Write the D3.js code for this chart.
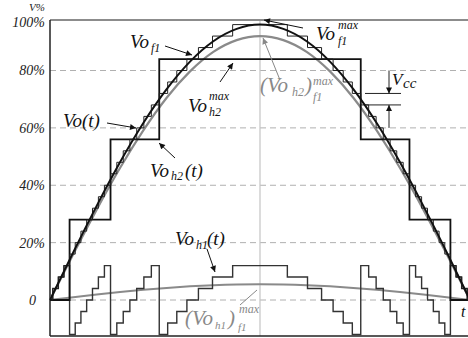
<!DOCTYPE html>
<html><head><meta charset="utf-8">
<script src="https://cdn.jsdelivr.net/npm/d3@7"></script>
<style>
html,body{margin:0;padding:0;background:#fff;}
svg{display:block;}
text{font-family:"Liberation Serif","Times New Roman",serif;font-style:italic;}
</style></head><body>
<svg id="chart" width="468" height="338"></svg>
<script>
// Phase angle (degrees) across one half period of the output voltage
const sampleAngles = [0,10,20,30,40,50,60,70,80,90,100,110,120,130,140,150,160,170,180];
// Reference output voltage Vo(t), % of full scale
const voT = [0,16.7,32.8,48.0,61.7,73.5,83.1,90.2,94.5,96.0,94.5,90.2,83.1,73.5,61.7,48.0,32.8,16.7,0];
// Fundamental of the high-voltage cell output (Vo_h2)_f1
const voH2Fund = [0,16.0,31.5,46.0,59.1,70.5,79.7,86.5,90.6,92.0,90.6,86.5,79.7,70.5,59.1,46.0,31.5,16.0,0];
// Fundamental of the low-voltage cell output (Vo_h1)_f1
const voH1Fund = [0,0.95,1.88,2.75,3.54,4.21,4.76,5.17,5.42,5.5,5.42,5.17,4.76,4.21,3.54,2.75,1.88,0.95,0];

// Switching angles of the fine staircase Vo_f1 (one Vcc step each)
const stepAngles = [1.19,3.58,5.98,8.39,10.81,13.25,15.71,18.21,20.74,23.32,25.94,28.63,31.39,34.23,37.17,40.23,43.43,46.82,50.43,54.34,58.67,63.61,69.64,78.28,
  101.72,110.36,116.39,121.33,125.66,129.57,133.18,136.57,139.77,142.83,145.77,148.61,151.37,154.06,156.68,159.26,161.79,164.29,166.75,169.19,171.61,174.02,176.42,178.81];
// Vo_f1 level after each switching angle (first entry: level at 0°)
const voF1Levels = [0,4,8,12,16,20,24,28,32,36,40,44,48,52,56,60,64,68,72,76,80,84,88,92,96,
  92,88,84,80,76,72,68,64,60,56,52,48,44,40,36,32,28,24,20,16,12,8,4,0];
// Low-voltage cell output Vo_h1(t) on the same switching angles
const voH1Levels = [0,4,8,12,-12,-8,-4,0,4,8,12,-12,-8,-4,0,4,8,12,-12,-8,-4,0,4,8,12,
  8,4,0,-4,-8,-12,12,8,4,0,-4,-8,-12,12,8,4,0,-4,-8,-12,12,8,4,0];
// High-voltage cell output Vo_h2(t)
const voH2Angles = [8.39,25.94,46.82,133.18,154.06,171.61];
const voH2Levels = [0,28,56,84,56,28,0];
// Two adjacent Vo_f1 levels used to mark one Vcc step
const vccLevels = [72,68];
const yTicks = [0,20,40,60,80];
const yTickLabels = ["0","20%","40%","60%","80%"];

const svg = d3.select("#chart");
const x = d3.scaleLinear().domain([0,180]).range([50,470]);
const y = d3.scaleLinear().domain([0,80]).range([300,70.5]);
const frameL = 50, frameR = 468, frameT = 20, frameB = 336;

// arrowheads
const defs = svg.append("defs");
[["arrB","#111"],["arrG","#888"]].forEach(([id,c])=>{
  defs.append("marker").attr("id",id).attr("viewBox","0 0 10 10").attr("refX",10).attr("refY",5)
    .attr("markerWidth",7).attr("markerHeight",6).attr("markerUnits","userSpaceOnUse").attr("orient","auto")
    .append("path").attr("d","M0,0L10,5L0,10Z").attr("fill",c);
});

// dashed grid
svg.append("g").selectAll("line").data(yTicks).join("line")
  .attr("x1",frameL).attr("x2",frameR).attr("y1",d=>y(d)).attr("y2",d=>y(d))
  .attr("stroke","#b0b0b0").attr("stroke-width",1).attr("stroke-dasharray","6,4");

// centre line at the peak
svg.append("line").attr("x1",x(90)).attr("x2",x(90)).attr("y1",frameT).attr("y2",frameB)
  .attr("stroke","#c4c4c4").attr("stroke-width",1.2);

// frame
svg.append("line").attr("x1",frameL).attr("x2",frameR).attr("y1",frameT).attr("y2",frameT).attr("stroke","#8c8c8c").attr("stroke-width",2);
svg.append("line").attr("x1",frameL).attr("x2",frameL).attr("y1",frameT).attr("y2",frameB).attr("stroke","#222").attr("stroke-width",1.5);
svg.append("line").attr("x1",frameL).attr("x2",frameR).attr("y1",frameB).attr("y2",frameB).attr("stroke","#222").attr("stroke-width",1.5);

// y axis labels
const yAxis = d3.axisLeft(y).tickValues(yTicks).tickFormat((d,i)=>yTickLabels[i]).tickSize(0).tickPadding(5);
const ga = svg.append("g").attr("transform",`translate(${frameL},0)`).call(yAxis);
ga.select(".domain").remove();
ga.selectAll("text").attr("font-size",14).attr("font-family","Liberation Serif, serif").attr("fill","#222")
  .attr("x",d=>d===0?-14:-5);
svg.append("text").attr("x",45).attr("y",27).attr("text-anchor","end").attr("font-size",14).attr("fill","#222").text("100%");
svg.append("text").attr("x",45).attr("y",11).attr("text-anchor","end").attr("font-size",11).attr("fill","#222").text("V%");

// smooth curves
const smooth = d3.line().x(d=>x(d[0])).y(d=>y(d[1])).curve(d3.curveNatural);
const pairs = arr => sampleAngles.map((a,i)=>[a,arr[i]]);
svg.append("path").attr("d",smooth(pairs(voH1Fund))).attr("fill","none").attr("stroke","#8a8a8a").attr("stroke-width",2);
svg.append("path").attr("d",smooth(pairs(voH2Fund))).attr("fill","none").attr("stroke","#8a8a8a").attr("stroke-width",2.2);

// staircases
const stair = d3.line().x(d=>x(d[0])).y(d=>y(d[1])).curve(d3.curveStepAfter);
const stepPts = (angles, levels) => [[0,levels[0]], ...angles.map((a,i)=>[a,levels[i+1]]), [180,levels[levels.length-1]]];
svg.append("path").attr("d",stair(stepPts(stepAngles,voH1Levels))).attr("fill","none").attr("stroke","#333").attr("stroke-width",1.4);
svg.append("path").attr("d",stair(stepPts(voH2Angles,voH2Levels))).attr("fill","none").attr("stroke","#111").attr("stroke-width",1.8);
svg.append("path").attr("d",stair(stepPts(stepAngles,voF1Levels))).attr("fill","none").attr("stroke","#222").attr("stroke-width",1);
svg.append("path").attr("d",smooth(pairs(voT))).attr("fill","none").attr("stroke","#111").attr("stroke-width",2);

// Vcc step marker
vccLevels.forEach(v=>{
  svg.append("line").attr("x1",365).attr("x2",401).attr("y1",y(v)).attr("y2",y(v)).attr("stroke","#222").attr("stroke-width",1);
});
svg.append("line").attr("x1",389).attr("x2",389).attr("y1",y(80)).attr("y2",y(vccLevels[0])).attr("stroke","#222").attr("stroke-width",1).attr("marker-end","url(#arrB)");
svg.append("line").attr("x1",389).attr("x2",389).attr("y1",y(60)).attr("y2",y(vccLevels[1])).attr("stroke","#222").attr("stroke-width",1).attr("marker-end","url(#arrB)");

// annotation arrows
const arrow = (x1,y1,x2,y2,m,c) => svg.append("line").attr("x1",x1).attr("y1",y1).attr("x2",x2).attr("y2",y2)
  .attr("stroke",c).attr("stroke-width",1).attr("marker-end",m?`url(#${m})`:null);
arrow(165,46,192,55,"arrB","#111");
arrow(303,28,264,20,"arrB","#111");
arrow(220,82,233,63,"arrB","#111");
arrow(280,80,263,38,"arrG","#888");
arrow(107,123,136,128,"arrB","#111");
arrow(175,158,159,143,"arrB","#111");
arrow(207,249,215,272,"arrB","#111");
arrow(240,305,257,290,null,"#888");

// labels
const label = (parts,color) => parts.forEach(([t,px,py,s])=>
  svg.append("text").attr("x",px).attr("y",py).attr("font-size",s).attr("fill",color).text(t));
label([["Vo",130,48,19],["f1",151,52,12]],"#111");
label([["Vo",316,40,19],["max",338,29,12],["f1",338,45,12]],"#111");
label([["Vo",188,112,19],["max",209,100,12],["h2",209,116,12]],"#111");
label([["(Vo",260,92,21],["h2",292,96,12],[")",305,92,21],["max",313,85,12],["f1",313,101,12]],"#888");
label([["Vo(t)",63,127,19]],"#111");
label([["Vo",150,176.5,19],["h2",171,180,12],["(t)",185,176.5,19]],"#111");
label([["V",392,85,17],["cc",403,88,15]],"#111");
label([["Vo",175,245,19],["h1",196,249,12],["(t)",207,245,19]],"#111");
label([["(Vo",185,325,21],["h1",215,329,11],[")",228,325,21],["max",239,313,12],["f1",238,331,11]],"#888");
label([["t",461,317,16]],"#111");
</script>
</body></html>
